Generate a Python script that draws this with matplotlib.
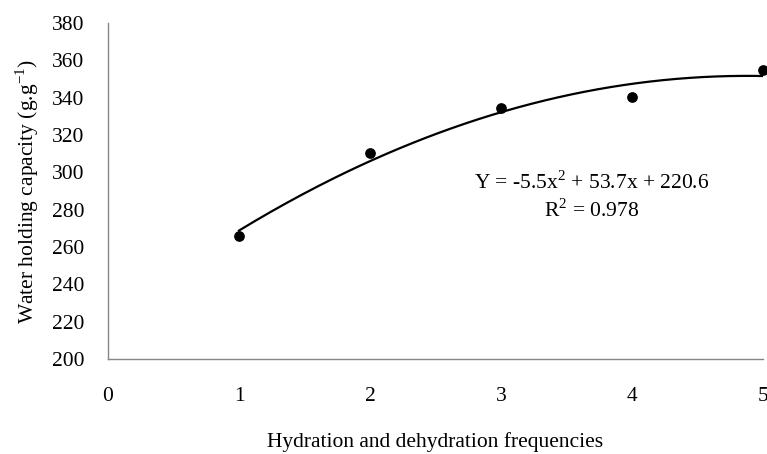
import numpy as np
import matplotlib.pyplot as plt

plt.rcParams['font.family'] = ['Liberation Serif', 'DejaVu Serif']

# measured points
freq = [1, 2, 3, 4, 5]
capacity = [266, 310.5, 334.5, 340.5, 355]

# quadratic fit reported on the chart
coef = [-5.5, 53.7, 220.6]
x_ticks = [0, 1, 2, 3, 4, 5]
y_ticks = [200, 220, 240, 260, 280, 300, 320, 340, 360, 380]

FS = 15.5

fig = plt.figure(figsize=(7.67, 4.54), dpi=100)
ax = fig.add_axes([108 / 767, 95 / 454, 655 / 767, 336 / 454])

xs = np.linspace(1, 5, 200)
ax.plot(xs, np.polyval(coef, xs), color='black', lw=1.6, zorder=2)
ax.scatter(freq, capacity, s=45, color='black', zorder=3, clip_on=False)

ax.set_xlim(0, 5)
ax.set_ylim(200, 380)
ax.set_xticks(x_ticks)
ax.set_yticks(y_ticks)
ax.tick_params(length=0, labelsize=FS, colors='black')
ax.tick_params(axis='x', pad=20)
ax.tick_params(axis='y', pad=17)

for side in ['top', 'right']:
    ax.spines[side].set_visible(False)
for side in ['left', 'bottom']:
    ax.spines[side].set_color('#868686')
    ax.spines[side].set_linewidth(1)

ax.set_ylabel('Water holding capacity (g.g$^{\\mathregular{-1}}$)', fontsize=FS, labelpad=8)
ax.set_xlabel('Hydration and dehydration frequencies', fontsize=FS, labelpad=19)

ax.text(3.69, 294.3, 'Y = -5.5x$^{\\mathregular{2}}$ + 53.7x + 220.6', fontsize=FS, ha='center', va='center')
ax.text(3.69, 279.5, 'R$^{\\mathregular{2}}$ = 0.978', fontsize=FS, ha='center', va='center')

fig.savefig('out.png', dpi=100)
